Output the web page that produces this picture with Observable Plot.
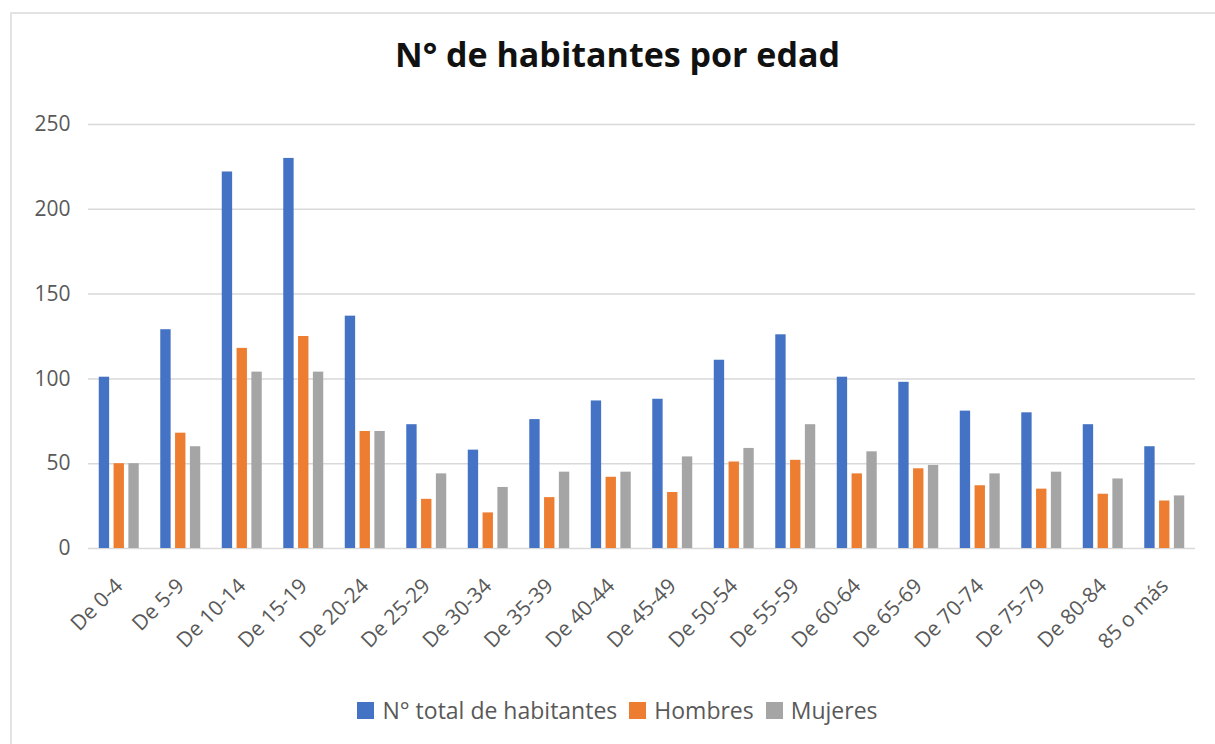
<!DOCTYPE html>
<html>
<head>
<meta charset="utf-8">
<script src="https://cdn.jsdelivr.net/npm/d3@7"></script>
<script src="https://cdn.jsdelivr.net/npm/@observablehq/plot@0.6"></script>
<style>
  html, body { margin: 0; padding: 0; background: #fff; }
  #wrap { position: relative; width: 1215px; height: 744px; overflow: hidden; font-family: "Open Sans", Lato, sans-serif; }
  #border { position: absolute; left: 10px; top: 12px; width: 1300px; height: 900px; border-left: 2px solid #e3e3e3; border-top: 2px solid #e3e3e3; }
  #title { position: absolute; left: 0; width: 1235px; top: 37px; line-height: 34px; text-align: center; font-size: 34px; font-weight: bold; color: #111; }
  .layer { position: absolute; left: 0; top: 0; }
  #legend { position: absolute; left: 0; width: 1235px; top: 698px; line-height: 24px; display: flex; justify-content: center; gap: 12px; font-size: 23px; color: #595959; }
  #legend .item { display: flex; align-items: center; gap: 8px; }
  #legend .sw { width: 17px; height: 17px; display: inline-block; }
</style>
</head>
<body>
<div id="wrap">
  <div id="border"></div>
  <div id="title">N° de habitantes por edad</div>
  <div id="bg" class="layer"></div>
  <div id="fg" class="layer"></div>
  <div id="legend"></div>
</div>
<script>
const categories = ["De 0-4","De 5-9","De 10-14","De 15-19","De 20-24","De 25-29","De 30-34","De 35-39","De 40-44","De 45-49","De 50-54","De 55-59","De 60-64","De 65-69","De 70-74","De 75-79","De 80-84","85 o más"];
const series = ["N° total de habitantes","Hombres","Mujeres"];
const total   = [101,129,222,230,137,73,58,76,87,88,111,126,101,98,81,80,73,60];
const hombres = [50,68,118,125,69,29,21,30,42,33,51,52,44,47,37,35,32,28];
const mujeres = [50,60,104,104,69,44,36,45,45,54,59,73,57,49,44,45,41,31];
const colors = ["#4472C4","#ED7D31","#A5A5A5"];
const yTicks = [0,50,100,150,200,250];

const valuesBySeries = [total, hombres, mujeres];
const rows = [];
categories.forEach((c, i) => series.forEach((s, j) => rows.push({category: c, series: s, value: valuesBySeries[j][i]})));

const W = 1215, H = 690;
const common = {width: W, height: H, marginTop: 124, marginBottom: 142, marginLeft: 88, marginRight: 20};
const font = {fontFamily: "'Open Sans', Lato, sans-serif", fontSize: "21px", color: "#595959", background: "transparent", overflow: "visible"};

const bg = Plot.plot({
  ...common,
  style: font,
  x: {axis: null, domain: [0, 1]},
  y: {domain: [0, 250], ticks: yTicks, tickSize: 0, tickPadding: 18, label: null},
  marks: [
    Plot.ruleY(yTicks, {stroke: "#d9d9d9", strokeWidth: 1.5})
  ]
});
document.getElementById("bg").appendChild(bg);

const fg = Plot.plot({
  ...common,
  style: font,
  facet: {data: rows, x: "category"},
  fx: {domain: categories, round: false, paddingInner: 0.35, paddingOuter: 0.175, axis: "bottom", label: null, tickRotate: -45, tickSize: 0, tickPadding: 34},
  x: {domain: series, round: false, paddingInner: 0.3, paddingOuter: 0, axis: null},
  y: {domain: [0, 250], axis: null},
  color: {domain: series, range: colors},
  marks: [
    Plot.barY(rows, {x: "series", y: "value", fill: "series"})
  ]
});
document.getElementById("fg").appendChild(fg);

const legend = document.getElementById("legend");
series.forEach((s, j) => {
  const it = document.createElement("div");
  it.className = "item";
  const sw = document.createElement("span");
  sw.className = "sw";
  sw.style.background = colors[j];
  const t = document.createElement("span");
  t.textContent = s;
  it.appendChild(sw); it.appendChild(t);
  legend.appendChild(it);
});
</script>
</body>
</html>
